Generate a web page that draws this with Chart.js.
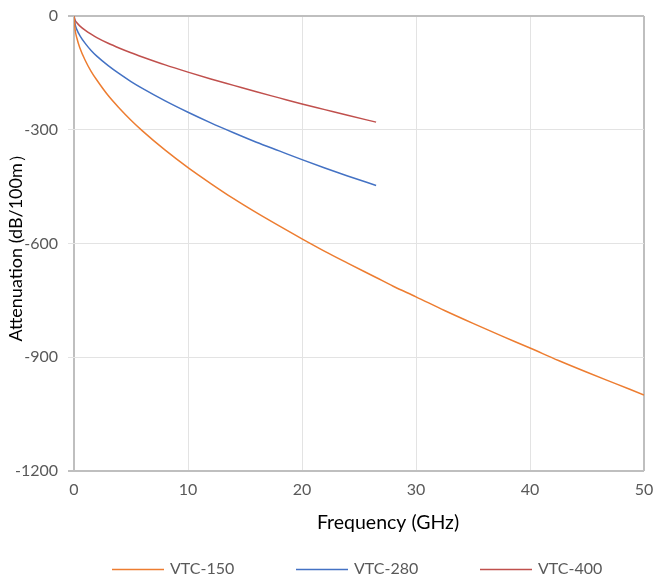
<!DOCTYPE html>
<html>
<head>
<meta charset="utf-8">
<script src="https://cdn.jsdelivr.net/npm/chart.js@4"></script>
<style>
  html, body { margin: 0; padding: 0; background: #fff; }
  #wrap { width: 657px; height: 579px; position: relative; }
</style>
</head>
<body>
<div id="wrap"><canvas id="c"></canvas></div>
<script>
// frequency points (GHz)
const freqGHz = [0, 0.1, 0.25, 0.5, 1, 1.5, 2, 3, 4, 5, 6, 8, 10, 12, 14, 16, 18, 20, 22, 24, 26.5,
                 28, 30, 32.5, 35, 37.5, 40, 42.5, 45, 47.5, 50];

// attenuation values (dB/100m), negative downwards
const vtc150 = [0, -37, -58, -83, -118, -146, -169, -210, -244, -275, -303, -354, -400, -442, -482, -519, -554, -588, -621, -652, -690,
                -713, -741, -777, -811, -844, -876, -909, -940, -970, -1000];
const vtc280 = [0, -22, -36, -51, -73, -91, -106, -131, -153, -173, -191, -224, -254, -282, -308, -333, -356, -379, -401, -422, -447];
const vtc400 = [0, -11, -18, -26, -38, -48, -57, -72, -85, -97, -108, -129, -148, -166, -183, -200, -216, -232, -247, -262, -280];

const seriesNames = ["VTC-150", "VTC-280", "VTC-400"];
const xTicks = [0, 10, 20, 30, 40, 50];
const yTicks = [0, -300, -600, -900, -1200];
const xTitle = "Frequency (GHz)";
const yTitle = "Attenuation (dB/100m）";

const FONT = "Lato, 'Open Sans', sans-serif";
const colors = ["#ED7D31", "#4472C4", "#C0504D"];

function toPoints(vals) {
  return vals.map((v, i) => ({ x: freqGHz[i], y: v }));
}

// x title (sits a bit right of centre, as in the original) and line legend
const extras = {
  id: "extras",
  afterDraw(chart) {
    const ctx = chart.ctx;
    ctx.save();
    ctx.fillStyle = "#000";
    ctx.font = "19.5px " + FONT;
    ctx.textAlign = "center";
    ctx.textBaseline = "middle";
    ctx.fillText(xTitle, 388, 523);

    const y = 569;
    const lineW = 52, gap = 6, spacing = 184;
    const startX = 112;
    ctx.font = "16px " + FONT;
    ctx.textAlign = "left";
    chart.data.datasets.forEach((ds, i) => {
      const x0 = startX + i * spacing;
      ctx.strokeStyle = ds.borderColor;
      ctx.lineWidth = 1.5;
      ctx.beginPath();
      ctx.moveTo(x0, y + 0.5);
      ctx.lineTo(x0 + lineW, y + 0.5);
      ctx.stroke();
      ctx.fillStyle = "#595959";
      ctx.fillText(ds.label, x0 + lineW + gap, y);
    });
    ctx.restore();
  }
};

const edgeGray = "#BFBFBF";
const gridGray = "#E3E3E3";

new Chart(document.getElementById("c"), {
  type: "line",
  data: {
    datasets: [vtc150, vtc280, vtc400].map((vals, i) => ({
      label: seriesNames[i],
      data: toPoints(vals),
      borderColor: colors[i],
      backgroundColor: colors[i],
      borderWidth: 1.5,
      pointRadius: 0,
      tension: 0.4,
      cubicInterpolationMode: "monotone",
      fill: false
    }))
  },
  options: {
    responsive: true,
    maintainAspectRatio: false,
    animation: false,
    layout: { padding: { top: 16, right: 13, left: 0, bottom: 71 } },
    plugins: {
      legend: { display: false },
      tooltip: { enabled: false }
    },
    scales: {
      x: {
        type: "linear",
        min: 0,
        max: 50,
        afterBuildTicks: (s) => { s.ticks = xTicks.map((v) => ({ value: v })); },
        afterFit: (s) => { s.paddingLeft = 0; s.paddingRight = 0; },
        ticks: { color: "#595959", font: { family: FONT, size: 16 }, padding: 9, maxRotation: 0 },
        grid: {
          drawTicks: false,
          color: (c) => (c.tick && (c.tick.value === 0 || c.tick.value === 50) ? edgeGray : gridGray),
          lineWidth: (c) => (c.tick && (c.tick.value === 0 || c.tick.value === 50) ? 2 : 1)
        },
        border: { display: false }
      },
      y: {
        min: -1200,
        max: 0,
        afterBuildTicks: (s) => { s.ticks = yTicks.map((v) => ({ value: v })); },
        afterFit: (s) => { s.width = 74; s.paddingTop = 0; s.paddingBottom = 0; },
        ticks: {
          color: "#595959",
          font: { family: FONT, size: 16 },
          padding: 10,
          callback: (v) => String(v)
        },
        grid: {
          tickLength: 6,
          color: (c) => (c.tick && (c.tick.value === 0 || c.tick.value === -1200) ? edgeGray : gridGray),
          lineWidth: (c) => (c.tick && (c.tick.value === 0 || c.tick.value === -1200) ? 2 : 1)
        },
        border: { display: false },
        title: {
          display: true,
          text: yTitle,
          color: "#000",
          font: { family: FONT, size: 18 },
          padding: { top: 5, bottom: 0 }
        }
      }
    }
  },
  plugins: [extras]
});
</script>
</body>
</html>
